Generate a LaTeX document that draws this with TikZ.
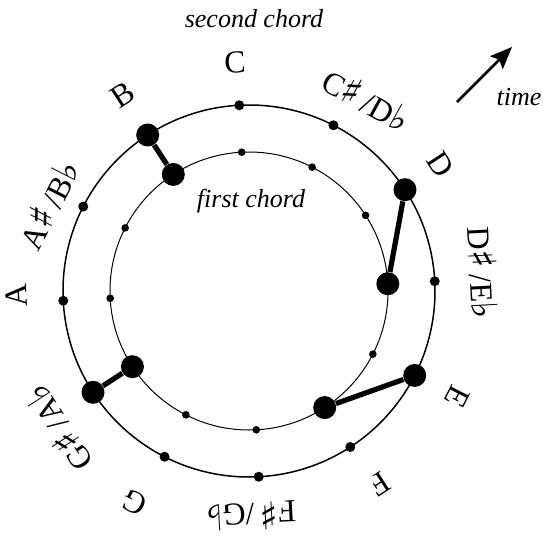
\documentclass[tikz,border=0pt]{standalone}
\usepackage{fontspec}
\setmainfont{Liberation Serif}
\newfontfamily\musicfont{DejaVu Sans}
\usepackage{tikz}
\usetikzlibrary{arrows.meta, calc}
\newcommand{\shp}{{\musicfont\fontsize{19}{19}\selectfont\char"266F}}
\newcommand{\flt}{{\musicfont\fontsize{18}{18}\selectfont\char"266D}}
\tikzstyle{dot} = [circle, fill=black, inner sep=0pt, minimum size=5pt]
\tikzstyle{smalldot} = [circle, fill=black, inner sep=0pt, minimum size=3.8pt]
\tikzstyle{bigdot} = [circle, fill=black, inner sep=0pt, minimum size=11.5pt]
\tikzstyle{link} = [line width=2.6pt]
\tikzstyle{note} = [font=\fontsize{16}{16}\selectfont, inner sep=0pt]
\tikzstyle{caption} = [font=\fontsize{13}{13}\selectfont\itshape, inner sep=0pt]
\tikzstyle{arrow} = [line width=1.3pt,-{Stealth[length=11pt,width=9pt,inset=2pt]}]

\begin{document}
\begin{tikzpicture}
    \useasboundingbox (-124.5pt,-128pt) rectangle (146.5pt,145.5pt);
    \coordinate (center) at (0,0);

    % Circles
    \draw [line width=0.75pt] (center) circle (93pt);
    \draw [line width=0.5pt] (center) circle (69.5pt);

    % Second chord (outer circle)
    \node (oC) [dot] at (93:93pt) {};
    \node (oCs) [dot] at (63:93pt) {};
    \node (oD) [bigdot] at (33:93pt) {};
    \node (oDs) [dot] at (3:93pt) {};
    \node (oE) [bigdot] at (-27:93pt) {};
    \node (oF) [dot] at (-57:93pt) {};
    \node (oFs) [dot] at (-87:93pt) {};
    \node (oG) [dot] at (-117:93pt) {};
    \node (oGs) [bigdot] at (-147:93pt) {};
    \node (oA) [dot] at (183:93pt) {};
    \node (oAs) [dot] at (153:93pt) {};
    \node (oB) [bigdot] at (123:93pt) {};

    % First chord (inner circle)
    \node (iC) [smalldot] at (93:69.5pt) {};
    \node (iCs) [smalldot] at (63:69.5pt) {};
    \node (iD) [smalldot] at (33:69.5pt) {};
    \node (iDs) [bigdot] at (3:69.5pt) {};
    \node (iE) [smalldot] at (-27:69.5pt) {};
    \node (iF) [bigdot] at (-57:69.5pt) {};
    \node (iFs) [smalldot] at (-87:69.5pt) {};
    \node (iG) [smalldot] at (-117:69.5pt) {};
    \node (iGs) [bigdot] at (-147:69.5pt) {};
    \node (iA) [smalldot] at (183:69.5pt) {};
    \node (iAs) [smalldot] at (153:69.5pt) {};
    \node (iB) [bigdot] at (123:69.5pt) {};

    % Voice leading
    \draw [link] (oB) -- (iB);
    \draw [link] (oD) -- (iDs);
    \draw [link] (oE) -- (iF);
    \draw [link] (oGs) -- (iGs);

    % Note names
    \node (labC) [note, rotate=3] at (93.5:114.5pt) {C};
    \node (labCs) [note, rotate=-29] at (58.4:112.5pt) {C\shp\,/D\flt};
    \node (labD) [note, rotate=-57] at (33.5:115pt) {D};
    \node (labDs) [note, rotate=-87] at (4.4:117.5pt) {D\shp\,/E\flt};
    \node (labE) [note, rotate=-117] at (-27:117pt) {E};
    \node (labF) [note, rotate=-147] at (-56:116.5pt) {F};
    \node (labFs) [note, rotate=183] at (-89.5:113pt) {F\shp\,/G\flt};
    \node (labG) [note, rotate=153] at (-118.4:120.5pt) {G};
    \node (labGs) [note, rotate=123] at (215.7:118pt) {G\shp\,/A\flt};
    \node (labA) [note, rotate=93] at (181:116.5pt) {A};
    \node (labAs) [note, rotate=63] at (156.6:109.5pt) {A\shp\,/B\flt};
    \node (labB) [note, rotate=33] at (122.7:116.5pt) {B};

    % Captions
    \node (second) [caption] at (2.5pt,136pt) {second chord};
    \node (first) [caption] at (1pt,45pt) {first chord};
    \node (time) [caption] at (135pt,97pt) {time};

    % Time arrow
    \coordinate (tstart) at (104pt,94.5pt);
    \coordinate (tend) at (131.5pt,122pt);
    \draw [arrow] (tstart) -- (tend);
\end{tikzpicture}
\end{document}
